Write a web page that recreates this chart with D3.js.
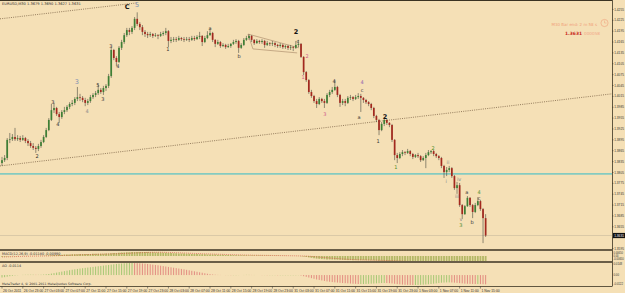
<!DOCTYPE html>
<html lang="en">
<head>
<meta charset="UTF-8">
<title>EURUSD,M30</title>
<style>
  body { margin: 0; background: #f5e0b6; }
  svg { display: block; }
  text { font-family: "DejaVu Sans", Arial, sans-serif; }
  .ax { font-family: "Liberation Sans", Arial, sans-serif; }
</style>
</head>
<body>
<svg id="chart" width="625" height="293"></svg>
<script src="https://d3js.org/d3.v7.min.js"></script>
<script>
// ---- data (EURUSD M30, bars from 26 Oct 2011 19:00) ----
var firstOpen = 1.3831;
var closes = [
  1.3839,1.3845,1.3895,1.3897,1.3903,1.3897,1.3900,1.3895,1.3900,1.3892,
  1.3886,1.3878,1.3873,1.3870,1.3878,1.3889,1.3903,1.3922,1.3950,1.3977,
  1.3983,1.3966,1.3958,1.3972,1.3977,1.3986,1.3994,1.3997,1.4008,1.4013,
  1.4011,1.4005,1.3997,1.4002,1.4013,1.4019,1.4024,1.4033,1.4027,1.4038,
  1.4044,1.4071,1.4143,1.4121,1.4110,1.4149,1.4165,1.4184,1.4198,1.4193,
  1.4204,1.4229,1.4215,1.4206,1.4193,1.4187,1.4184,1.4187,1.4182,1.4184,
  1.4182,1.4187,1.4190,1.4195,1.4168,1.4171,1.4173,1.4171,1.4176,1.4173,
  1.4171,1.4173,1.4171,1.4176,1.4173,1.4179,1.4182,1.4165,1.4176,1.4184,
  1.4190,1.4171,1.4160,1.4165,1.4154,1.4157,1.4151,1.4154,1.4160,1.4165,
  1.4168,1.4149,1.4157,1.4171,1.4176,1.4182,1.4171,1.4162,1.4168,1.4165,
  1.4168,1.4157,1.4162,1.4160,1.4162,1.4157,1.4154,1.4157,1.4151,1.4154,
  1.4149,1.4151,1.4149,1.4157,1.4160,1.4124,1.4082,1.4060,1.4027,1.4016,
  1.4002,1.3994,1.4008,1.4002,1.3997,1.4019,1.4027,1.4033,1.4041,1.4019,
  1.3997,1.4002,1.3997,1.4011,1.4013,1.4008,1.4013,1.4016,1.4011,1.4005,
  1.3999,1.3994,1.3983,1.3961,1.3950,1.3922,1.3939,1.3950,1.3942,1.3936,
  1.3895,1.3853,1.3845,1.3856,1.3861,1.3859,1.3864,1.3856,1.3848,1.3853,
  1.3850,1.3839,1.3845,1.3853,1.3861,1.3864,1.3856,1.3850,1.3845,1.3823,
  1.3806,1.3812,1.3817,1.3795,1.3762,1.3770,1.3715,1.3690,1.3712,1.3735,
  1.3715,1.3696,1.3715,1.3726,1.3704,1.3679,1.3631
];
var highs = [
  1.3848,1.3853,1.3900,1.3914,1.3911,1.3928,1.3908,1.3906,1.3908,1.3903,
  1.3897,1.3892,1.3886,1.3878,1.3884,1.3895,1.3908,1.3928,1.3955,1.3994,
  1.3997,1.3986,1.3972,1.3977,1.3986,1.3991,1.3999,1.4005,1.4013,1.4041,
  1.4022,1.4016,1.4011,1.4008,1.4019,1.4024,1.4030,1.4049,1.4038,1.4044,
  1.4049,1.4077,1.4151,1.4146,1.4126,1.4154,1.4171,1.4190,1.4204,1.4204,
  1.4209,1.4234,1.4247,1.4220,1.4212,1.4198,1.4193,1.4193,1.4190,1.4190,
  1.4187,1.4193,1.4195,1.4204,1.4198,1.4179,1.4179,1.4179,1.4182,1.4179,
  1.4179,1.4179,1.4179,1.4182,1.4182,1.4184,1.4193,1.4184,1.4182,1.4195,
  1.4201,1.4193,1.4173,1.4171,1.4168,1.4162,1.4160,1.4160,1.4162,1.4171,
  1.4173,1.4171,1.4162,1.4176,1.4182,1.4187,1.4184,1.4173,1.4173,1.4171,
  1.4173,1.4171,1.4168,1.4165,1.4168,1.4165,1.4160,1.4162,1.4160,1.4157,
  1.4157,1.4157,1.4154,1.4168,1.4171,1.4162,1.4126,1.4085,1.4063,1.4033,
  1.4019,1.4008,1.4013,1.4011,1.4008,1.4024,1.4033,1.4041,1.4060,1.4044,
  1.4022,1.4008,1.4008,1.4016,1.4019,1.4016,1.4019,1.4024,1.4022,1.4013,
  1.4008,1.4002,1.3997,1.3986,1.3964,1.3953,1.3944,1.3953,1.3953,1.3944,
  1.3939,1.3897,1.3859,1.3861,1.3867,1.3864,1.3870,1.3867,1.3859,1.3856,
  1.3859,1.3853,1.3850,1.3859,1.3867,1.3867,1.3867,1.3859,1.3853,1.3848,
  1.3826,1.3820,1.3823,1.3820,1.3798,1.3779,1.3776,1.3718,1.3715,1.3740,
  1.3737,1.3718,1.3721,1.3737,1.3729,1.3707,1.3690
];
var lows = [
  1.3823,1.3834,1.3839,1.3886,1.3892,1.3892,1.3892,1.3889,1.3892,1.3886,
  1.3878,1.3873,1.3867,1.3859,1.3864,1.3873,1.3886,1.3900,1.3919,1.3947,
  1.3969,1.3961,1.3942,1.3953,1.3966,1.3972,1.3980,1.3988,1.3991,1.4002,
  1.4002,1.3999,1.3988,1.3991,1.3997,1.4008,1.4013,1.4019,1.4022,1.4019,
  1.4030,1.4038,1.4066,1.4115,1.4099,1.4107,1.4143,1.4160,1.4179,1.4184,
  1.4187,1.4198,1.4209,1.4198,1.4184,1.4179,1.4176,1.4179,1.4176,1.4179,
  1.4173,1.4179,1.4182,1.4184,1.4151,1.4162,1.4165,1.4165,1.4168,1.4168,
  1.4165,1.4168,1.4165,1.4168,1.4168,1.4171,1.4173,1.4154,1.4162,1.4173,
  1.4182,1.4165,1.4151,1.4157,1.4149,1.4151,1.4146,1.4149,1.4149,1.4157,
  1.4160,1.4135,1.4146,1.4154,1.4168,1.4171,1.4165,1.4157,1.4160,1.4160,
  1.4160,1.4149,1.4154,1.4154,1.4154,1.4151,1.4149,1.4149,1.4146,1.4146,
  1.4143,1.4143,1.4140,1.4146,1.4151,1.4121,1.4074,1.4055,1.4022,1.4011,
  1.3997,1.3983,1.3991,1.3997,1.3983,1.3994,1.4013,1.4022,1.4030,1.4013,
  1.3986,1.3991,1.3988,1.3994,1.4005,1.4002,1.4005,1.4008,1.3972,1.3997,
  1.3994,1.3988,1.3977,1.3955,1.3944,1.3908,1.3919,1.3933,1.3936,1.3930,
  1.3889,1.3839,1.3831,1.3842,1.3850,1.3853,1.3856,1.3850,1.3842,1.3845,
  1.3845,1.3834,1.3837,1.3817,1.3850,1.3856,1.3850,1.3845,1.3839,1.3817,
  1.3790,1.3795,1.3806,1.3790,1.3757,1.3746,1.3710,1.3677,1.3688,1.3710,
  1.3710,1.3679,1.3693,1.3712,1.3699,1.3610,1.3627
];

// MACD(12,26,9): main (histogram) and signal, in pips (0.0001)
var macdMain = [
  -10,-9,-6,-4,-3,-2,-1,0,1,1,  1,1,1,1,1,2,3,5,7,10,
  12,14,15,17,18,20,21,22,23,24,  25,26,26,27,27,28,28,29,29,30,
  31,33,36,38,40,42,44,46,48,50,  51,52,53,53,53,52,51,50,49,47,
  46,44,43,41,40,38,37,35,34,32,  31,30,28,27,26,25,24,23,22,21,
  20,19,18,17,16,15,14,13,12,11,  10,10,9,9,9,8,8,8,7,7,
  6,6,5,5,4,4,3,3,2,2,  1,1,0,0,-1,-3,-7,-12,-18,-24,
  -29,-34,-37,-40,-42,-44,-45,-46,-47,-48,  -50,-51,-52,-53,-53,-54,-54,-55,-55,-55,
  -56,-56,-57,-58,-60,-62,-63,-64,-65,-66,  -69,-73,-76,-78,-80,-81,-82,-82,-82,-82,
  -82,-82,-82,-81,-80,-79,-78,-78,-78,-79,  -80,-81,-82,-84,-86,-89,-93,-98,-102,-104,
  -106,-108,-110,-111,-112,-114,-118
];
var macdSignal = [
  -12,-12,-11,-10,-9,-8,-7,-6,-5,-4,  -3,-2,-2,-1,-1,0,0,1,1,2,
  3,4,5,6,8,9,10,12,13,14,  15,16,17,18,19,20,21,22,23,24,
  25,26,27,28,29,30,32,33,35,36,  38,39,41,42,44,45,46,47,48,48,
  48,48,48,47,46,45,44,43,42,40,  39,38,36,35,33,32,31,29,28,27,
  26,25,24,23,22,21,20,19,18,17,  16,15,14,13,12,12,11,10,10,9,
  9,8,8,7,7,6,6,5,5,4,  4,3,3,2,2,1,0,-1,-3,-5,
  -8,-11,-14,-17,-20,-23,-26,-29,-32,-34,  -37,-39,-41,-43,-45,-46,-48,-49,-50,-51,
  -52,-53,-54,-54,-55,-56,-57,-58,-59,-60,  -61,-62,-64,-65,-67,-68,-70,-71,-73,-74,
  -75,-76,-77,-78,-79,-80,-80,-80,-80,-80,  -80,-80,-80,-80,-81,-81,-82,-83,-84,-85,
  -87,-89,-91,-93,-95,-97,-99
];
// Awesome Oscillator, in pips (0.0001)
var aoValues = [
  -30,-26,-20,-14,-9,-5,-2,0,2,3,  4,4,4,3,3,4,6,9,13,18,
  24,30,36,42,48,54,60,65,70,75,  80,84,88,92,96,100,104,108,112,116,
  120,124,128,132,136,139,142,144,146,148,  148,147,146,144,142,139,136,132,128,124,
  120,115,110,105,100,95,90,85,80,75,  70,64,58,52,46,40,34,28,22,16,
  11,7,4,2,1,0,-1,-1,-2,-2,  -2,-1,0,1,2,2,1,1,0,0,
  -1,-1,-2,-2,-2,-2,-3,-3,-3,-3,  -3,-3,-3,-3,-2,-6,-14,-22,-30,-38,
  -46,-54,-60,-66,-72,-78,-82,-86,-89,-92,  -95,-98,-100,-102,-104,-106,-108,-110,-110,-110,
  -109,-108,-106,-104,-102,-100,-98,-97,-98,-100,  -103,-107,-111,-114,-117,-119,-120,-121,-122,-122,
  -121,-120,-118,-116,-113,-110,-106,-102,-98,-94,  -92,-90,-90,-91,-93,-96,-99,-102,-105,-107,
  -108,-109,-110,-110,-111,-112,-114
];

var priceTicks = [1.4255,1.4225,1.4195,1.4165,1.4135,1.4105,1.4075,1.4045,1.4015,1.3985,1.3955,
  1.3925,1.3895,1.3865,1.3835,1.3805,1.3775,1.3745,1.3715,1.3685,1.3655,1.3625,1.3595];
// one time label every 8 bars
var timeLabels = ["26 Oct 2011","26 Oct 23:00","27 Oct 03:00","27 Oct 07:00","27 Oct 11:00","27 Oct 15:00",
  "27 Oct 19:00","27 Oct 23:00","28 Oct 03:00","28 Oct 07:00","28 Oct 11:00","28 Oct 15:00",
  "28 Oct 19:00","28 Oct 23:00","31 Oct 03:00","31 Oct 07:00","31 Oct 11:00","31 Oct 15:00",
  "31 Oct 19:00","31 Oct 23:00","1 Nov 03:00","1 Nov 07:00","1 Nov 11:00","1 Nov 15:00"];

// Elliott wave marks: text, bar, price, degree
var waveText   = ["C","5","3","4","3","5","3","2","3","4","4","1","a","b","2","c","2","1","3","4","4","c","a","2","1","1","2","ii","i","iv","iii","v","3","a","b","4","c"];
var waveBar    = [48.1,51.9,41.9,44.6,28.8,36.9,38.8,13.5,19.6,21.5,32.7,63.8,80,91.2,113.1,113.8,117.3,115.8,124.2,127.7,138.5,138.5,137.3,147.3,144.6,151.5,165.8,171.5,170.8,175.8,175,176.5,176.5,178.8,180.8,183.5,183.5];
var wavePrice  = [1.4262,1.4267,1.4151,1.4096,1.4055,1.4044,1.4005,1.3850,1.3997,1.3936,1.3972,1.4143,1.4201,1.4124,1.4192,1.4165,1.4124,1.4066,1.3964,1.4057,1.4052,1.4030,1.3955,1.3958,1.3889,1.3817,1.3870,1.3831,1.3779,1.3784,1.3737,1.3674,1.3657,1.3748,1.3666,1.3748,1.3732];
var waveDegree = ["primary","cycle","minor","minor","cycle","minor","minor","minor","minor","minor","sub","minor","minor","minor","primary","minor","minute","minute","minute","minor","micro","minor","minor","primary","minor","inter","inter","sub","sub","sub","sub","sub","inter","minor","minor","inter","minor"];

// channel (two parallel dotted lines), wedge, horizontal lines
var channelLow  = [[-0.77, 1.3823], [234.6, 1.4022]];
var channelHigh = [[-0.77, 1.4229], [51.9, 1.4273]];
var wedge = [[[94.6, 1.4187], [114.2, 1.4149]], [[96.5, 1.4146], [113.5, 1.4135]], [[94.6, 1.4187], [96.5, 1.4146]]];
var levelLine = 1.3801;
var bidPrice = 1.3631;

// ---- layout ----
var plotRight = 612, mainBottom = 249.5;
var macdTop = 251, macdBottom = 261;
var aoTop = 263, aoBottom = 285;
var axisY = 286.5;

var degreeColor = {primary: "#111", cycle: "#7d8fb3", minor: "#333", sub: "#8a8a8a",
  minute: "#d0608a", micro: "#8e5fb0", inter: "#4f8f2a"};

var svg = d3.select("#chart");
var x = d3.scaleLinear().domain([0, 234.6]).range([2, plotRight]);
var y = d3.scaleLinear().domain([1.35938, 1.4281]).range([249, 0]);

var bars = closes.map(function(c, i) {
  return {i: i, o: i ? closes[i - 1] : firstOpen, h: highs[i], l: lows[i], c: c};
});

svg.append("rect").attr("width", 625).attr("height", 293).attr("fill", "#f5e0b6");

svg.append("clipPath").attr("id", "mainClip")
  .append("rect").attr("x", 0).attr("y", 0).attr("width", plotRight).attr("height", mainBottom);
var main = svg.append("g").attr("clip-path", "url(#mainClip)");

// horizontal lines
main.append("line").attr("x1", 0).attr("x2", plotRight)
  .attr("y1", y(levelLine)).attr("y2", y(levelLine))
  .attr("stroke", "#84cbc0").attr("stroke-width", 1.6);
main.append("line").attr("x1", 0).attr("x2", plotRight)
  .attr("y1", y(bidPrice)).attr("y2", y(bidPrice))
  .attr("stroke", "#d2c3a3").attr("stroke-width", 0.8);

// trend channel
var line = d3.line().x(function(d) { return x(d[0]); }).y(function(d) { return y(d[1]); });
[channelLow, channelHigh].forEach(function(seg) {
  main.append("path").attr("d", line(seg)).attr("fill", "none")
    .attr("stroke", "#6b5236").attr("stroke-width", 0.7).attr("stroke-dasharray", "1,1.2");
});
wedge.forEach(function(seg) {
  main.append("path").attr("d", line(seg)).attr("fill", "none")
    .attr("stroke", "#a48363").attr("stroke-width", 0.6);
});

// candles
var candle = main.selectAll(".candle").data(bars).enter().append("g");
candle.append("line")
  .attr("x1", function(d) { return x(d.i); }).attr("x2", function(d) { return x(d.i); })
  .attr("y1", function(d) { return y(d.h); }).attr("y2", function(d) { return y(d.l); })
  .attr("stroke", "#4a4a40").attr("stroke-width", 0.6);
candle.append("rect")
  .attr("x", function(d) { return x(d.i) - 0.85; })
  .attr("width", 1.7)
  .attr("y", function(d) { return y(Math.max(d.o, d.c)); })
  .attr("height", function(d) { return Math.max(0.6, Math.abs(y(d.o) - y(d.c))); })
  .attr("fill", function(d) { return d.c >= d.o ? "#3e7f35" : "#a3281e"; });

// wave labels
main.selectAll(".wave").data(waveText).enter().append("text")
  .attr("x", function(d, i) { return x(waveBar[i]); })
  .attr("y", function(d, i) { return y(wavePrice[i]); })
  .attr("text-anchor", "middle").attr("dominant-baseline", "middle")
  .attr("font-size", function(d, i) { var g = waveDegree[i]; return (g == "primary" || g == "cycle") ? 6.5 : 5; })
  .attr("font-weight", function(d, i) { return waveDegree[i] == "primary" ? "bold" : "normal"; })
  .attr("fill", function(d, i) { return degreeColor[waveDegree[i]]; })
  .text(function(d) { return d; });

// header
var last = bars[bars.length - 1];
svg.append("text").attr("x", 2).attr("y", 5).attr("font-size", 3.6).attr("fill", "#333")
  .text("EURUSD,M30  " + [last.o, last.h, last.l, last.c].map(function(v) { return v.toFixed(4); }).join(" "));

// bar timer
svg.append("text").attr("x", 597).attr("y", 26).attr("text-anchor", "end")
  .attr("font-size", 4).attr("fill", "#f0a07a").text("M30 Bar end: 2 m 58 s");
svg.append("circle").attr("cx", 604.5).attr("cy", 23).attr("r", 3.6)
  .attr("fill", "none").attr("stroke", "#f0a07a").attr("stroke-width", 0.6);
svg.append("path").attr("d", "M604.5,20.5V23H606.5").attr("fill", "none")
  .attr("stroke", "#f0a07a").attr("stroke-width", 0.5);
svg.append("text").attr("x", 582).attr("y", 34.5).attr("text-anchor", "end")
  .attr("font-size", 4.4).attr("font-weight", "bold").attr("fill", "#c82a1e").text(last.c.toFixed(4));
svg.append("text").attr("x", 584).attr("y", 34.5)
  .attr("font-size", 4.2).attr("fill", "#f2a788").text("000058");

// price axis (the bid box hides the tick label under it)
var axisG = svg.append("g");
priceTicks.forEach(function(p) {
  axisG.append("line").attr("x1", plotRight).attr("x2", plotRight + 1.5)
    .attr("y1", y(p)).attr("y2", y(p)).attr("stroke", "#333").attr("stroke-width", 0.5);
  if (Math.abs(y(p) - y(bidPrice)) < 4) return;
  axisG.append("text").attr("class", "ax").attr("x", plotRight + 2.2).attr("y", y(p) + 1.1)
    .attr("font-size", 3.2).attr("fill", "#333").text(p.toFixed(4));
});
axisG.append("rect").attr("x", plotRight + 1).attr("y", y(bidPrice) - 2.6)
  .attr("width", 12).attr("height", 5.2).attr("fill", "#111");
axisG.append("text").attr("class", "ax").attr("x", plotRight + 2.2).attr("y", y(bidPrice) + 1.1)
  .attr("font-size", 3.2).attr("fill", "#fff").text(bidPrice.toFixed(4));

// ---- MACD window ----
var yMacd = d3.scaleLinear().domain([-0.0065, 0.0065]).range([macdBottom, macdTop]);
svg.append("clipPath").attr("id", "macdClip")
  .append("rect").attr("x", 0).attr("y", macdTop - 0.5).attr("width", plotRight).attr("height", macdBottom - macdTop + 0.5);
var macdG = svg.append("g").attr("clip-path", "url(#macdClip)");
macdG.selectAll("line").data(macdMain).enter().append("line")
  .attr("x1", function(d, i) { return x(i); }).attr("x2", function(d, i) { return x(i); })
  .attr("y1", yMacd(0)).attr("y2", function(d) { return yMacd(d * 1e-4); })
  .attr("stroke", "#b4b866").attr("stroke-width", 1.8);
macdG.append("path")
  .attr("d", d3.line().x(function(d, i) { return x(i); }).y(function(d) { return yMacd(d * 1e-4); })(macdSignal))
  .attr("fill", "none").attr("stroke", "#d24a3c").attr("stroke-width", 0.6).attr("stroke-dasharray", "1,1");
svg.append("text").attr("x", 2).attr("y", 254.5).attr("font-size", 3.4).attr("fill", "#333")
  .text("MACD(12,26,9) " + (macdMain[macdMain.length - 1] * 1e-4).toFixed(5) + " " + (macdSignal[macdSignal.length - 1] * 1e-4).toFixed(5));
[[253.6, "0.00650"], [257, "0.00"], [260.4, "-0.00650"]].forEach(function(t) {
  svg.append("text").attr("class", "ax").attr("x", plotRight + 1.5).attr("y", t[0])
    .attr("font-size", 2.6).attr("fill", "#333").text(t[1]);
});

// ---- AO window ----
var yAo = d3.scaleLinear().domain([-0.0122, 0.0148]).range([aoBottom, aoTop]);
svg.append("g").selectAll("line").data(aoValues).enter().append("line")
  .attr("x1", function(d, i) { return x(i); }).attr("x2", function(d, i) { return x(i); })
  .attr("y1", yAo(0)).attr("y2", function(d) { return yAo(d * 1e-4); })
  .attr("stroke", function(d, i) { return (i > 0 && d < aoValues[i - 1]) ? "#e0827a" : "#9cc46c"; })
  .attr("stroke-width", 0.9);
svg.append("text").attr("x", 2).attr("y", 266.5).attr("font-size", 3.4).attr("fill", "#333")
  .text("AO " + (aoValues[aoValues.length - 1] * 1e-4).toFixed(4));
[[0.0148, 1.8, "0.0148"], [0, 1.1, "0.00"], [-0.0122, -0.4, "-0.0122"]].forEach(function(t) {
  svg.append("text").attr("class", "ax").attr("x", plotRight + 1.5).attr("y", yAo(t[0]) + t[1])
    .attr("font-size", 2.8).attr("fill", "#333").text(t[2]);
});
svg.append("text").attr("x", 2).attr("y", 285.3).attr("font-size", 3.2).attr("fill", "#333")
  .text("MetaTrader 4, \u00a9 2001-2011 MetaQuotes Software Corp.");

// ---- frames ----
var frame = svg.append("g").attr("fill", "none").attr("stroke", "#3b3322");
frame.append("line").attr("x1", 0).attr("x2", plotRight).attr("y1", 0.5).attr("y2", 0.5).attr("stroke-width", 1);
frame.append("line").attr("x1", 0).attr("x2", plotRight).attr("y1", 250).attr("y2", 250).attr("stroke-width", 1.3);
frame.append("line").attr("x1", 0).attr("x2", plotRight).attr("y1", 262).attr("y2", 262).attr("stroke-width", 1.3);
frame.append("line").attr("x1", 0).attr("x2", plotRight).attr("y1", axisY).attr("y2", axisY).attr("stroke-width", 0.8);
frame.append("line").attr("x1", plotRight + 0.5).attr("x2", plotRight + 0.5).attr("y1", 0).attr("y2", axisY).attr("stroke-width", 0.8);

// ---- time axis ----
timeLabels.forEach(function(t, k) {
  var xx = x(k * 8);
  svg.append("line").attr("x1", xx).attr("x2", xx).attr("y1", axisY).attr("y2", axisY + 2)
    .attr("stroke", "#333").attr("stroke-width", 0.5);
  svg.append("text").attr("class", "ax").attr("x", xx + 1).attr("y", 291.5).attr("font-size", 3.4).attr("fill", "#333").text(t);
});
</script>
</body>
</html>
